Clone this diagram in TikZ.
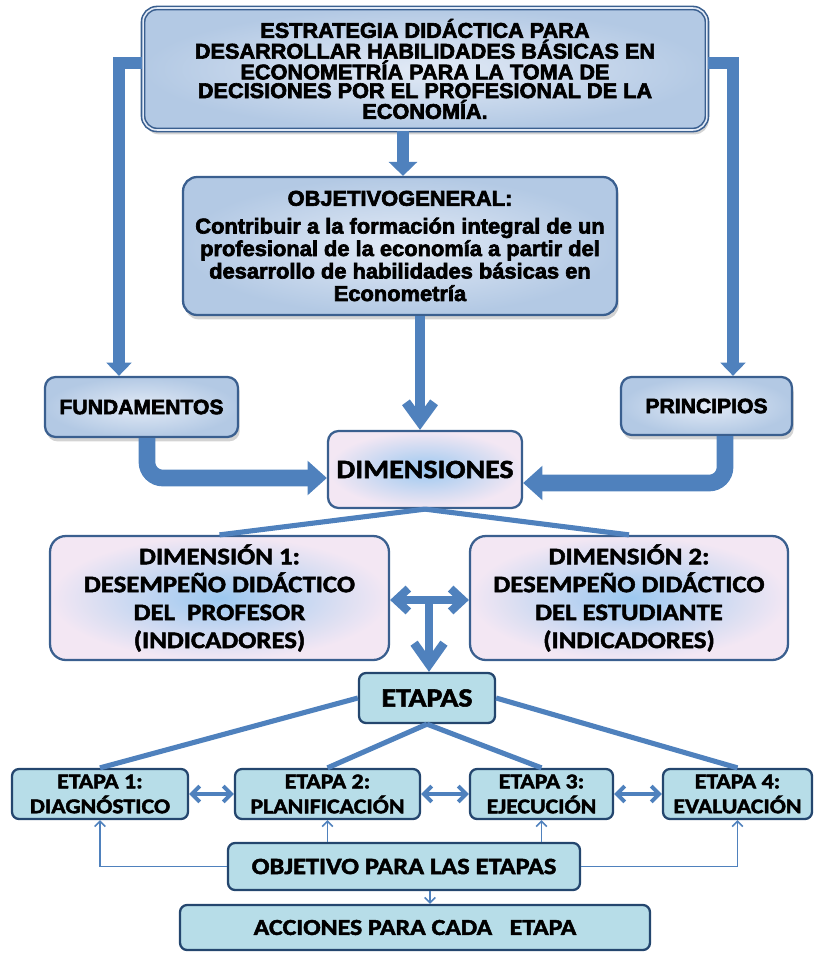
\documentclass[tikz,border=0pt]{standalone}
\usepackage{fontspec}
\usetikzlibrary{arrows.meta,shadows,calc}
\newfontfamily\ttlfont{Liberation Sans Bold}[FakeStretch=1.02, FakeBold=3]
\newfontfamily\calfont{Carlito Bold}[FakeStretch=1.13, FakeBold=2]
\definecolor{arrowc}{HTML}{4F81BD}
\definecolor{bordc}{HTML}{3A5F8F}
\definecolor{lbout}{HTML}{B3C9E4}
\definecolor{lbin}{HTML}{E2EAF6}
\definecolor{pinkc}{HTML}{F3E7F3}
\definecolor{glowc}{HTML}{9CC8F0}
\definecolor{etfill}{HTML}{B7DDE8}
\definecolor{etbord}{HTML}{24466E}
\begin{document}
\begin{tikzpicture}[x=0.02cm,y=-0.02cm,
  bx/.style={rounded corners=6pt, draw=bordc, line width=1.3pt, inner sep=0pt, align=center},
  blueb/.style={bx, inner color=lbin, outer color=lbout},
  pinkb/.style={bx, inner color=glowc, outer color=pinkc},
  etbox/.style={rounded corners=4pt, draw=etbord, line width=1.3pt, fill=etfill, inner sep=0pt, align=center},
  shad/.style={drop shadow={shadow xshift=1pt, shadow yshift=-2.5pt, opacity=0.35}},
  arrA/.style={draw=arrowc, line width=6.8pt, -{Triangle[width=14pt,length=7.5pt]}},
  arrB/.style={draw=arrowc, line width=6.3pt, -{Triangle[width=16pt,length=8pt]}},
  arrV/.style={draw=arrowc, line width=5.5pt, -{Straight Barb[length=11pt,width=16pt]}},
  fat/.style={draw=arrowc, line width=9.5pt, rounded corners=9pt, -{Triangle[width=19pt,length=11pt]}},
  dblarr/.style={draw=arrowc, line width=4.6pt, {Straight Barb[length=7pt,width=13pt]}-{Straight Barb[length=7pt,width=13pt]}},
  dnarr/.style={draw=arrowc, line width=5pt, -{Straight Barb[length=12pt,width=17pt]}},
  ln/.style={draw=arrowc, line width=2.9pt},
  edbl/.style={draw=arrowc, line width=2.2pt, {Straight Barb[length=4.5pt,width=9pt]}-{Straight Barb[length=4.5pt,width=9pt]}},
  thinarr/.style={draw=arrowc, line width=0.9pt, -{Straight Barb[length=3pt,width=6pt]}},
  ttl/.style={font=\ttlfont\fontsize{12.1}{10.6}\selectfont},
  objf/.style={font=\ttlfont\fontsize{12.2}{12.8}\selectfont},
  fpf/.style={font=\ttlfont\fontsize{11.8}{12}\selectfont},
  dimf/.style={font=\calfont\fontsize{13.5}{15.9}\selectfont},
  etf/.style={font=\calfont\fontsize{12}{14.2}\selectfont},
]
\useasboundingbox (0,0) rectangle (817,953);

% boxes
\node[blueb, shad, double=lbin, double distance=0.9pt, line width=0.9pt, rounded corners=8pt,
      minimum width=11.28cm, minimum height=2.44cm, ttl] (top) at (425,69)
  {ESTRATEGIA DIDÁCTICA  PARA\\DESARROLLAR HABILIDADES BÁSICAS EN\\ECONOMETRÍA PARA LA TOMA DE\\DECISIONES POR EL PROFESIONAL DE LA\\ECONOMÍA.};

\node[blueb, shad, rounded corners=8pt, minimum width=8.68cm, minimum height=2.76cm, objf] (obj) at (400,246)
  {OBJETIVOGENERAL:\\[3pt]Contribuir a la formación integral de un\\profesional de la economía a partir del\\desarrollo de habilidades básicas en\\Econometría};

\node[blueb, shad, minimum width=3.86cm, minimum height=1.2cm, fpf] (fund) at (141.5,407) {FUNDAMENTOS};
\node[blueb, shad, minimum width=3.42cm, minimum height=1.16cm, fpf] (princ) at (706.5,406) {PRINCIPIOS};

\node[pinkb, minimum width=3.88cm, minimum height=1.54cm,
      font=\calfont\fontsize{15}{17}\selectfont] (dim) at (425,469.5) {DIMENSIONES};

\node[pinkb, rounded corners=9pt, minimum width=6.78cm, minimum height=2.48cm, dimf] (d1) at (219.5,598)
  {DIMENSIÓN 1:\\DESEMPEÑO DIDÁCTICO\\DEL\ \ PROFESOR\\(INDICADORES)};
\node[pinkb, rounded corners=9pt, minimum width=6.36cm, minimum height=2.48cm, dimf] (d2) at (629,598)
  {DIMENSIÓN 2:\\DESEMPEÑO DIDÁCTICO\\DEL ESTUDIANTE\\(INDICADORES)};

\node[etbox, minimum width=2.72cm, minimum height=1.0cm,
      font=\calfont\fontsize{15}{17}\selectfont] (etapas) at (427,698) {ETAPAS};

\node[etbox, minimum width=3.52cm, minimum height=1.0cm, etf] (e1) at (100,794) {ETAPA 1:\\DIAGNÓSTICO};
\node[etbox, minimum width=3.70cm, minimum height=1.0cm, etf] (e2) at (327.5,794) {ETAPA 2:\\PLANIFICACIÓN};
\node[etbox, minimum width=2.86cm, minimum height=1.0cm, etf] (e3) at (541.5,794) {ETAPA 3:\\EJECUCIÓN};
\node[etbox, minimum width=2.98cm, minimum height=1.0cm, etf] (e4) at (737.5,794) {ETAPA 4:\\EVALUACIÓN};

\node[etbox, minimum width=7.04cm, minimum height=0.94cm,
      font=\calfont\fontsize{13.3}{15}\selectfont] (objet) at (404,866.5) {OBJETIVO PARA LAS ETAPAS};
\node[etbox, minimum width=9.4cm, minimum height=0.9cm,
      font=\calfont\fontsize{13}{15}\selectfont] (acc) at (415,927.5) {ACCIONES PARA CADA\ \ \ ETAPA};

% connectors
\coordinate (lk) at (119,63);
\coordinate (rk) at (733,63);
\coordinate (tc) at (403,0);
\coordinate (oc) at (420,0);
\coordinate (fk) at (147,478);
\coordinate (pk) at (725,483);
\coordinate (dm) at (429,600);
\coordinate (ac) at (430,0);

\draw[arrA] (top.west |- lk) -- (lk) -- (fund.north -| lk);
\draw[arrA] (top.east |- rk) -- (rk) -- (princ.north -| rk);
\draw[arrB] (top.south -| tc) -- (obj.north -| tc);
\draw[arrV] (obj.south -| oc) -- (dim.north -| oc);
\draw[fat] (fund.south -| fk) -- (fk) -- (dim.west |- fk);
\draw[fat] (princ.south -| pk) -- (pk) -- (dim.east |- pk);

\draw[ln] (dim.south) -- (d1.north);
\draw[ln] (dim.south) -- (d2.north);
\draw[dblarr] (d1.east |- dm) -- (d2.west |- dm);
\draw[dnarr] (dm) -- (etapas.north -| dm);

\draw[ln] (etapas.west) -- (e1.north);
\draw[ln] (etapas.south) -- (e2.north);
\draw[ln] (etapas.south) -- (e3.north);
\draw[ln] (etapas.east) -- (e4.north);

\draw[edbl] (e1.east) -- (e2.west);
\draw[edbl] (e2.east) -- (e3.west);
\draw[edbl] (e3.east) -- (e4.west);

\draw[thinarr] (objet.west) -| (e1.south);
\draw[thinarr] (objet.north -| e2.south) -- (e2.south);
\draw[thinarr] (objet.north -| e3.south) -- (e3.south);
\draw[thinarr] (objet.east) -| (e4.south);
\draw[thinarr] (objet.south -| ac) -- (acc.north -| ac);
\end{tikzpicture}
\end{document}
